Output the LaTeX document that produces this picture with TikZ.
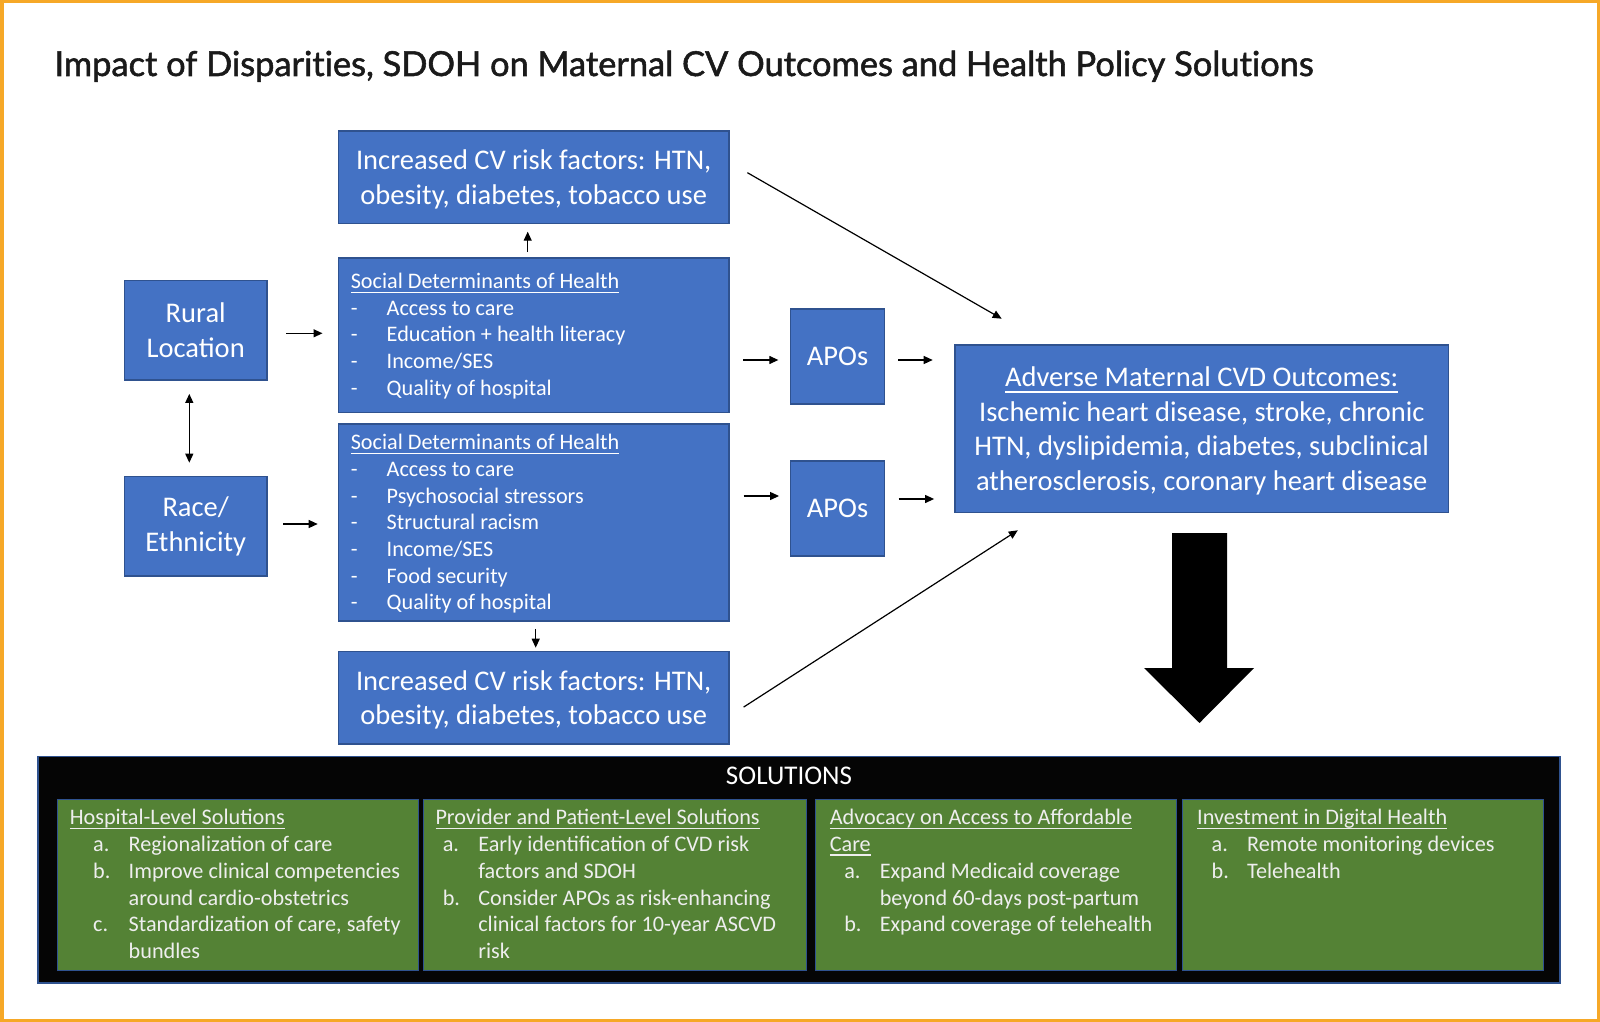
\documentclass[tikz,border=0pt]{standalone}
\usepackage{fontspec}
\setmainfont{Carlito}
\newfontfamily\titlefont[FakeBold=1.6,Ligatures=NoCommon]{Lato}
\usetikzlibrary{arrows.meta}

\definecolor{boxblue}{HTML}{4472C4}
\definecolor{edgeblue}{HTML}{2F528F}
\definecolor{solgreen}{HTML}{548235}
\definecolor{solwhite}{HTML}{EEEEEE}
\definecolor{frameorange}{HTML}{F6A827}
\definecolor{titleblack}{HTML}{1A1A1A}

\newsavebox{\hulbox}
\newcommand{\hul}[1]{\sbox{\hulbox}{#1}\rlap{\rule[-0.2em]{\wd\hulbox}{0.055em}}\usebox{\hulbox}}
\newcommand{\bul}{\makebox[36pt][l]{-}}
\newcommand{\itm}[2][14.5pt]{\hspace*{#1}\makebox[35.5pt][l]{#2}}
\newcommand{\sdohtext}[4]{\parbox[c][#2][t]{#1}{\vspace*{#3}\leftskip=12.4pt\relax\strut#4}}
\newcommand{\soltext}[3]{\parbox[c][160.5pt][t]{#1}{\vspace*{1pt}\leftskip=#2\relax\strut#3}}

\tikzset{
  titletext/.style={anchor=base west, inner sep=0pt, text=titleblack,
    font=\titlefont\fontsize{34.4}{40}\selectfont},
  bluebox/.style={draw=edgeblue, line width=1.3pt, fill=boxblue, text=white,
    font=\fontsize{28.5}{34.5}\selectfont, align=center, inner sep=0pt},
  sdohbox/.style={draw=edgeblue, line width=1.3pt, fill=boxblue, text=white,
    font=\fontsize{22.2}{26.7}\selectfont, inner sep=0pt},
  solbox/.style={draw=edgeblue, line width=1pt, fill=solgreen, text=solwhite,
    font=\fontsize{22.2}{26.9}\selectfont, inner xsep=0pt, inner ysep=5pt,
    anchor=north west},
  arr/.style={-{Triangle[length=9pt,width=8pt]}, line width=1.2pt},
  twoarr/.style={{Triangle[length=9pt,width=8pt]}-{Triangle[length=9pt,width=8pt]},
    line width=1.2pt},
}

\begin{document}
\begin{tikzpicture}[x=1pt,y=-1pt]
	\useasboundingbox (0,0) rectangle (1600,1022);
	\draw[frameorange, line width=3.5pt] (1.75,1.75) rectangle (1598.25,1020.25);
	\node[titletext] (title) at (54.3,76) {Impact of Disparities, SDOH on Maternal CV Outcomes and Health Policy Solutions};

	% left column
	\node[bluebox, minimum width=142.7pt, minimum height=99.3pt] (rural) at (195.7,330.3) {Rural\\Location};
	\node[bluebox, minimum width=142.7pt, minimum height=99.3pt] (race) at (195.7,526.3) {Race/\\Ethnicity};

	% middle column
	\node[bluebox, minimum width=390.7pt, minimum height=92.3pt] (cvA) at (533.7,177.2) {\strut Increased CV risk factors: HTN,\\obesity, diabetes, tobacco use};
	\node[sdohbox] (sdohA) at (533.7,335.4) {\sdohtext{390.7pt}{154.7pt}{11.6pt}{\hul{Social Determinants of Health}\\
		\bul Access to care\\
		\bul Education + health literacy\\
		\bul Income/SES\\
		\bul Quality of hospital}};
	\node[sdohbox] (sdohB) at (533.7,522.5) {\sdohtext{390.7pt}{197pt}{7.1pt}{\hul{Social Determinants of Health}\\
		\bul Access to care\\
		\bul Psychosocial stressors\\
		\bul Structural racism\\
		\bul Income/SES\\
		\bul Food security\\
		\bul Quality of hospital}};
	\node[bluebox, minimum width=390.7pt, minimum height=92.3pt] (cvB) at (533.7,697.9) {\strut Increased CV risk factors: HTN,\\obesity, diabetes, tobacco use};

	% APOs and outcomes
	\node[bluebox, minimum width=93.8pt, minimum height=95pt] (apoA) at (837.6,356.5) {APOs};
	\node[bluebox, minimum width=93.8pt, minimum height=95pt] (apoB) at (837.6,508.6) {APOs};
	\node[bluebox, minimum width=493.3pt, minimum height=167.7pt] (adv) at (1201.7,428.9) {\strut\hul{Adverse Maternal CVD Outcomes:}\\
		Ischemic heart disease, stroke, chronic\\
		HTN, dyslipidemia, diabetes, subclinical\\
		atherosclerosis, coronary heart disease};

	% connectors
	\draw[arr, shorten <=18.7pt, shorten >=15.2pt] ([yshift=-3pt]rural.east) -- ([yshift=-3pt]rural.east -| sdohA.west);
	\draw[arr, shorten <=15.7pt, shorten >=20pt] ([yshift=2.3pt]race.east) -- ([yshift=2.3pt]race.east -| sdohB.west);
	\draw[twoarr, shorten <=13.3pt, shorten >=13.3pt] ([xshift=-6.4pt]rural.south) -- ([xshift=-6.4pt]race.north);
	\draw[arr] ([xshift=-6pt,yshift=5.3pt]sdohA.north) -- ([xshift=-6pt,yshift=-7.7pt]cvA.south);
	\draw[arr] ([xshift=2pt,yshift=-7.3pt]sdohB.south) -- ([xshift=2pt,yshift=3.4pt]cvB.north);
	\draw[arr, shorten <=13.7pt, shorten >=11.7pt] ([yshift=-3.5pt]apoA.west -| sdohA.east) -- ([yshift=-3.5pt]apoA.west);
	\draw[arr, shorten <=13.2pt, shorten >=21.7pt] ([yshift=-3.5pt]apoA.east) -- ([yshift=-3.5pt]apoA.east -| adv.west);
	\draw[arr, shorten <=14pt, shorten >=11pt] ([yshift=12.6pt]apoB.west -| sdohB.east) -- ([yshift=12.6pt]apoB.west);
	\draw[arr, shorten <=13.5pt, shorten >=20.3pt] ([yshift=9.6pt]apoB.east) -- ([yshift=9.6pt]apoB.east -| adv.west);
	\draw[arr] ([xshift=17.7pt,yshift=4.5pt]cvA.east) -- ([xshift=47.3pt,yshift=25.7pt]adv.north west);
	\draw[arr] ([xshift=13.9pt,yshift=-9.2pt]cvB.east) -- ([xshift=63.4pt,yshift=-16.9pt]adv.south west);

	% big arrow down to the solutions
	\fill[black] (1172,533) -- (1227,533) -- (1227,668) -- (1254,668) -- (1199.5,723) -- (1144,668) -- (1172,668) -- cycle;

	% solutions
	\node[draw=edgeblue, line width=1.3pt, fill=black!98, anchor=north west, inner sep=0pt, minimum width=1522pt, minimum height=226.8pt] (solframe) at (37.3,755.5) {};
	\node[anchor=base, inner sep=0pt, text=white, font=\fontsize{27}{32}\selectfont] (soltitle) at (789,784) {SOLUTIONS};
	\node[solbox] (hosp) at (57.3,799) {\soltext{361pt}{12pt}{\hul{Hospital-Level Solutions}\\
		\itm[23.4pt]{a.}Regionalization of care\\
		\itm[23.4pt]{b.}Improve clinical competencies\\
		\itm[23.4pt]{}around cardio-obstetrics\\
		\itm[23.4pt]{c.}Standardization of care, safety\\
		\itm[23.4pt]{}bundles}};
	\node[solbox] (prov) at (423.3,799) {\soltext{382.4pt}{11.7pt}{\hul{Provider and Patient-Level Solutions}\\
		\itm[7.3pt]{a.}Early identification of CVD risk\\
		\itm[7.3pt]{}factors and SDOH\\
		\itm[7.3pt]{b.}Consider APOs as risk-enhancing\\
		\itm[7.3pt]{}clinical factors for 10-year ASCVD\\
		\itm[7.3pt]{}risk}};
	\node[solbox] (advo) at (815,799) {\soltext{360.7pt}{14.3pt}{\hul{Advocacy on Access to Affordable}\\
		\hul{Care}\\
		\itm{a.}Expand Medicaid coverage\\
		\itm{}beyond 60-days post-partum\\
		\itm{b.}Expand coverage of telehealth}};
	\node[solbox] (digi) at (1182.3,799) {\soltext{360.4pt}{14.4pt}{\hul{Investment in Digital Health}\\
		\itm{a.}Remote monitoring devices\\
		\itm{b.}Telehealth}};
\end{tikzpicture}
\end{document}
